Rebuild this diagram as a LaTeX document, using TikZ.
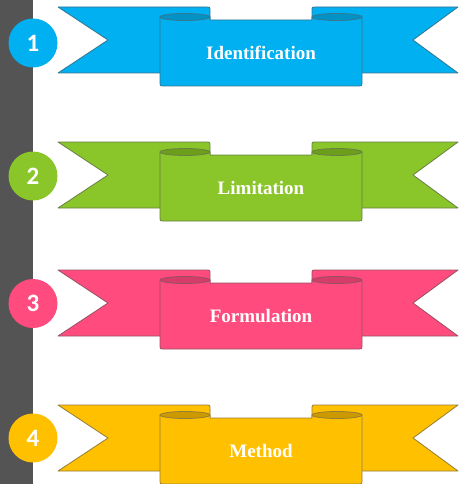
\documentclass[tikz,border=0pt]{standalone}
\usepackage{fontspec}
\setmainfont{Liberation Serif}
\newfontfamily\numfont{Carlito}
\definecolor{cblue}{HTML}{00B0F0}
\definecolor{dblue}{HTML}{0392C6}
\definecolor{cgreen}{HTML}{8AC629}
\definecolor{dgreen}{HTML}{6C9E1C}
\definecolor{cpink}{HTML}{FF4B7D}
\definecolor{dpink}{HTML}{D53C67}
\definecolor{cgold}{HTML}{FFC000}
\definecolor{dgold}{HTML}{CC9900}
\definecolor{barc}{HTML}{545454}
\tikzset{
  band/.style={line width=0.8pt, line join=round},
  numcircle/.style={circle, inner sep=0pt, minimum size=49pt, text=white,
    font=\numfont\bfseries\fontsize{25}{25}\selectfont},
  ribbonlabel/.style={text=white, font=\bfseries\fontsize{19}{19}\selectfont}
}
\begin{document}
\begin{tikzpicture}[x=1pt,y=-1pt]
\useasboundingbox (0,0) rectangle (458,484);
\fill[barc] (0,0) rectangle (33,484);
\foreach \T/\cy/\col/\dk/\txt/\n in {7/43/cblue/dblue/Identification/1,
    142/176/cgreen/dgreen/Limitation/2,
    270/303.5/cpink/dpink/Formulation/3,
    405/438/cgold/dgold/Method/4}{
  % back bands
  \filldraw[band, fill=\col, draw=\col!45!gray!80!black]
    (58,\T) -- (206,\T) .. controls (210,\T) .. (210,\T+4) -- (210,\T+66)
    -- (58,\T+66) -- (108,\T+33) -- cycle;
  \filldraw[band, fill=\col, draw=\col!45!gray!80!black]
    (458,\T) -- (316,\T) .. controls (312,\T) .. (312,\T+4) -- (312,\T+66)
    -- (458,\T+66) -- (413,\T+33) -- cycle;
  % front panel
  \filldraw[band, fill=\col, draw=\col!45!gray!80!black]
    (160,\T+10) -- (160,\T+76) .. controls (160,\T+79) .. (163,\T+79)
    -- (359,\T+79) .. controls (362,\T+79) .. (362,\T+76)
    -- (362,\T+10) -- (312,\T+10) -- (312,\T+13) -- (210,\T+13) -- (210,\T+10) -- cycle;
  % folds
  \filldraw[band, fill=\dk, draw=\col!45!gray!80!black]
    (185,\T+10) ellipse [x radius=25pt, y radius=3.5pt];
  \filldraw[band, fill=\dk, draw=\col!45!gray!80!black]
    (337,\T+10) ellipse [x radius=25pt, y radius=3.5pt];
  \node[ribbonlabel] (l\n) at (261,\T+46) {\txt};
  \node[numcircle, fill=\col] (c\n) at (33,\cy) {\n};
}
\end{tikzpicture}
\end{document}
